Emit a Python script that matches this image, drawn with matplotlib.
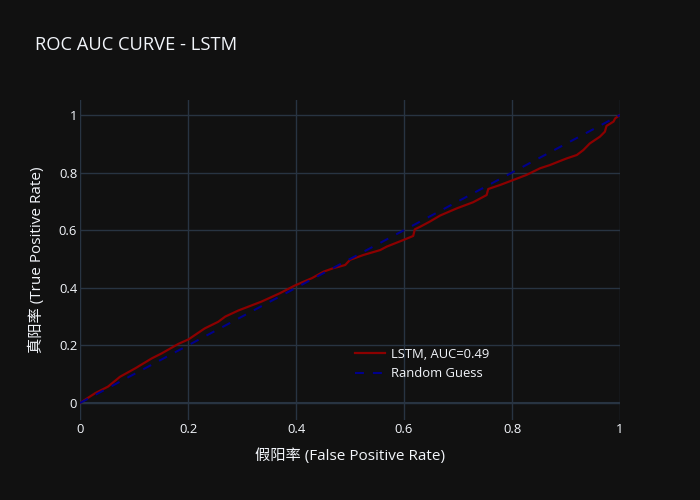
import matplotlib
matplotlib.use('Agg')
import matplotlib.pyplot as plt

plt.rcParams['font.family'] = ['Open Sans', 'Noto Sans CJK SC', 'DejaVu Sans']

fpr = [0.000, 0.028, 0.052, 0.074, 0.102, 0.133, 0.151, 0.182, 0.201, 0.231,
       0.256, 0.269, 0.293, 0.336, 0.370, 0.398, 0.430, 0.451, 0.469, 0.491,
       0.500, 0.525, 0.556, 0.568, 0.599, 0.617, 0.620, 0.630, 0.648, 0.667,
       0.698, 0.728, 0.753, 0.756, 0.778, 0.802, 0.827, 0.852, 0.870, 0.886,
       0.901, 0.920, 0.932, 0.944, 0.963, 0.972, 0.975, 0.988, 0.991, 1.000]
tpr = [0.000, 0.034, 0.057, 0.091, 0.120, 0.155, 0.172, 0.205, 0.221, 0.259,
       0.282, 0.300, 0.321, 0.352, 0.381, 0.408, 0.434, 0.456, 0.468, 0.479,
       0.497, 0.514, 0.531, 0.543, 0.566, 0.580, 0.603, 0.612, 0.630, 0.651,
       0.676, 0.697, 0.722, 0.743, 0.757, 0.774, 0.792, 0.815, 0.826, 0.838,
       0.849, 0.861, 0.878, 0.901, 0.925, 0.942, 0.962, 0.977, 0.988, 1.000]
auc = 0.49
guess = [0, 1]

bg = '#111111'
grid = '#283442'
fg = '#f2f5fa'

fig = plt.figure(figsize=(7, 5), dpi=100, facecolor=bg)
ax = fig.add_axes([80/700, 80/500, 540/700, 320/500], facecolor=bg)

ax.plot(fpr, tpr, color='#8b0000', lw=1.6, label=f'LSTM, AUC={auc}', zorder=3)
ax.plot(guess, guess, color='#00008b', lw=1.5, linestyle=(0, (4.3, 4.3)),
        label='Random Guess', zorder=3)

ax.set_xlim(0, 1)
ax.set_ylim(-0.059, 1.052)
ticks = [0, 0.2, 0.4, 0.6, 0.8, 1]
labels = ['0', '0.2', '0.4', '0.6', '0.8', '1']
ax.set_xticks(ticks, labels)
ax.set_yticks(ticks, labels)
ax.tick_params(colors=fg, labelsize=9.4, length=0)
ax.tick_params(axis='x', pad=2)
ax.tick_params(axis='y', pad=2)
ax.grid(color=grid, lw=1.0, zorder=0)
ax.axhline(0, color=grid, lw=1.5, zorder=1)
ax.axvline(0, color=grid, lw=1.5, zorder=1)
for s in ax.spines.values():
    s.set_visible(False)

ax.set_xlabel('假阳率 (False Positive Rate)', color=fg, fontsize=11, labelpad=9)
ax.set_ylabel('真阳率 (True Positive Rate)', color=fg, fontsize=11, labelpad=10)
fig.text(35/700, 1 - 45/500, 'ROC AUC CURVE - LSTM', color=fg, fontsize=13.2,
         va='center', ha='left')

leg = ax.legend(loc='upper left', bbox_to_anchor=(0.487, 0.262), frameon=False,
                fontsize=9.4, labelcolor=fg, handlelength=2.3, handletextpad=0.5,
                labelspacing=0.5)

fig.savefig('out.png', dpi=100, facecolor=bg)
